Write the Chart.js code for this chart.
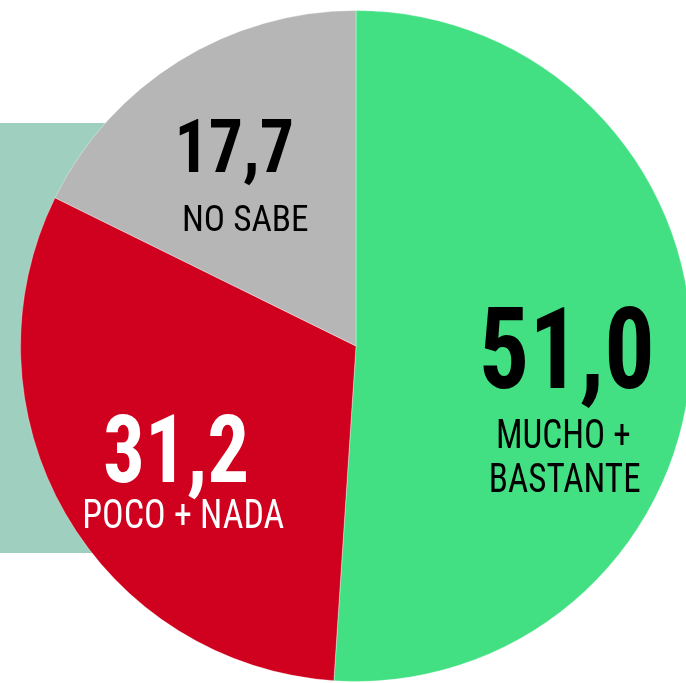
<!DOCTYPE html>
<html>
<head>
<meta charset="utf-8">
<script src="https://cdn.jsdelivr.net/npm/chart.js@4/dist/chart.umd.min.js"></script>
<style>
  html, body { margin: 0; padding: 0; width: 686px; height: 683px; overflow: hidden; background: #ffffff; position: relative; }
  #panel { position: absolute; left: 0; top: 123px; width: 250px; height: 430px; background: #9fcfbf; }
  #wrap { position: absolute; left: 20px; top: 10px; width: 672px; height: 672px; }
</style>
</head>
<body>
<div id="panel"></div>
<div id="wrap"><canvas id="c" width="672" height="672"></canvas></div>
<script>
const categories = ["MUCHO + BASTANTE", "POCO + NADA", "NO SABE"];
const labelLines = [["MUCHO +", "BASTANTE"], ["POCO + NADA"], ["NO SABE"]];
const values = [51.0, 31.2, 17.7];
const sliceColors = ["#42e083", "#d0001f", "#b6b6b6"];
const textColors = ["#000000", "#ffffff", "#000000"];

// label layout relative to pie centre, in units of radius
const labelLayout = [
  { dx: 0.628, dy: 0.125, size: 0.335, hs: 0.89,
    lines: [{ dx: 0.618, dy: 0.304 }, { dx: 0.622, dy: 0.435 }], lsize: 0.1205, lhs: 0.87 },
  { dx: -0.536, dy: 0.405, size: 0.283, hs: 0.875,
    lines: [{ dx: -0.515, dy: 0.542 }], lsize: 0.1205, lhs: 0.89 },
  { dx: -0.363, dy: -0.518, size: 0.222, hs: 0.91,
    lines: [{ dx: -0.330, dy: -0.342 }], lsize: 0.112, lhs: 0.94 }
];

const FONT = '"Liberation Sans Narrow", "Arial Narrow", "Roboto Condensed", "DejaVu Sans Condensed", sans-serif';

function drawScaled(ctx, text, x, y, hs) {
  ctx.save();
  ctx.translate(x, y);
  ctx.scale(hs, 1);
  ctx.fillText(text, 0, 0);
  ctx.restore();
}

const labelPlugin = {
  id: 'sliceLabels',
  afterDatasetsDraw(chart) {
    const ctx = chart.ctx;
    const meta = chart.getDatasetMeta(0);
    meta.data.forEach((arc, i) => {
      const r = arc.outerRadius;
      const L = labelLayout[i];
      ctx.save();
      ctx.fillStyle = textColors[i];
      ctx.textAlign = 'center';
      ctx.textBaseline = 'alphabetic';
      ctx.font = 'bold ' + (L.size * r).toFixed(1) + 'px ' + FONT;
      const valText = values[i].toFixed(1).replace('.', ',');
      drawScaled(ctx, valText, arc.x + L.dx * r, arc.y + L.dy * r, L.hs);
      ctx.font = (L.lsize * r).toFixed(1) + 'px ' + FONT;
      labelLines[i].forEach((line, j) => {
        const p = L.lines[j];
        drawScaled(ctx, line, arc.x + p.dx * r, arc.y + p.dy * r, L.lhs);
      });
      ctx.restore();
    });
  }
};

new Chart(document.getElementById('c'), {
  type: 'pie',
  data: {
    labels: categories,
    datasets: [{
      data: values,
      backgroundColor: sliceColors,
      borderColor: 'rgba(255,255,255,0.35)',
      borderWidth: 1
    }]
  },
  options: {
    responsive: false,
    animation: false,
    layout: { padding: 0 },
    plugins: { legend: { display: false }, tooltip: { enabled: false } }
  },
  plugins: [labelPlugin]
});
</script>
</body>
</html>
